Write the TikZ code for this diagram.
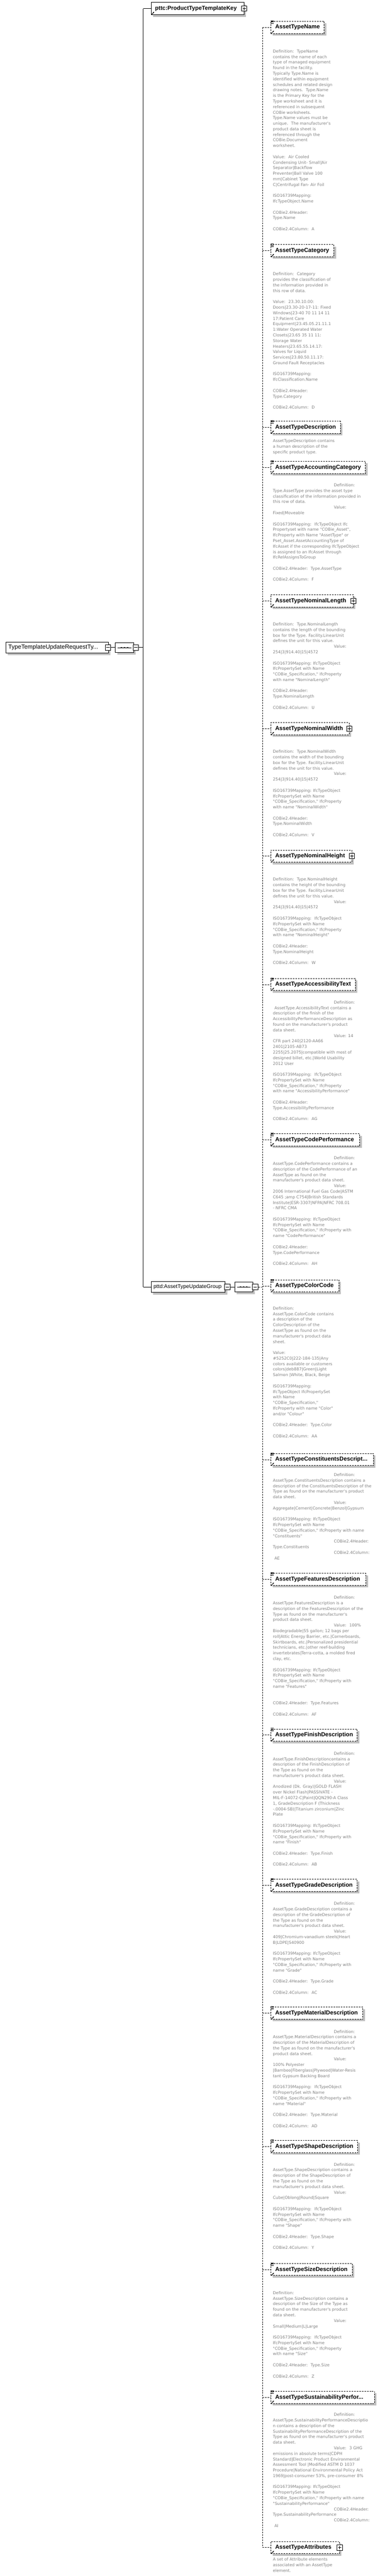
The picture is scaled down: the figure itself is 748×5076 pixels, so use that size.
\documentclass[tikz,border=0pt]{standalone}
\usepackage{fontspec}
\usetikzlibrary{shapes.misc,shadows,arrows.meta}
\newfontfamily\docf{DejaVu Sans}
\newfontfamily\lblf{Liberation Sans}
\definecolor{docgray}{RGB}{128,128,128}
\definecolor{shgray}{RGB}{192,192,192}
\newcommand{\ind}{\hspace*{120pt}}
\newcommand{\fs}{\rule{0pt}{7.5pt}}
\newcommand{\bl}{10.95pt}
\begin{document}
\begin{tikzpicture}[x=1pt,y=-1pt,line width=0.9pt,
  shad/.style={drop shadow={opacity=1,fill=shgray,shadow xshift=4pt,shadow yshift=-4pt}},
  ebox/.style={draw,dash pattern=on 3pt off 2pt,fill=white,minimum height=24pt,inner sep=0,anchor=west,shad},
  kbox/.style={draw,fill=white,minimum height=24pt,inner sep=0,anchor=west,shad},
  ctbox/.style={draw,fill=white,chamfered rectangle,chamfered rectangle xsep=3pt,inner sep=0,anchor=west,shad},
  seqbox/.style={draw,fill=white,chamfered rectangle,chamfered rectangle xsep=4pt,minimum width=36pt,minimum height=20pt,inner sep=0,shad},
  pmbox/.style={draw,fill=white,minimum size=10.5pt,inner sep=0,line width=0.9pt},
  minusb/.style={pmbox,path picture={\draw[line width=0.9pt] ([xshift=2pt]path picture bounding box.west) -- ([xshift=-2pt]path picture bounding box.east);}},
  plusb/.style={pmbox,path picture={\draw[line width=0.9pt] ([xshift=2pt]path picture bounding box.west) -- ([xshift=-2pt]path picture bounding box.east); \draw[line width=0.9pt] ([yshift=-2pt]path picture bounding box.north) -- ([yshift=2pt]path picture bounding box.south);}},
  conn/.style={dash pattern=on 3pt off 2pt},
  elbl/.style={font=\lblf\bfseries\fontsize{11.4}{13}\selectfont,anchor=west,inner sep=0},
  keylbl/.style={font=\lblf\bfseries\fontsize{11.2}{13}\selectfont,anchor=west,inner sep=0},
  rootlbl/.style={font=\lblf\fontsize{11.8}{13}\selectfont,anchor=west,inner sep=0},
  grplbl/.style={font=\lblf\fontsize{10.6}{13}\selectfont,anchor=west,inner sep=0},
  doc/.style={font=\docf\fontsize{7.95}{10.95}\selectfont,text=docgray,align=left,anchor=north west,inner sep=0},
  iconline/.style={line width=0.7pt},
  refarr/.style={line width=1pt,-{Stealth[length=2.6pt,width=2.8pt]}}
]
\newcommand{\refarrow}[1]{\draw[refarr] ([shift={(1.5,-1)}]#1.south west) -- ([shift={(6.5,-6)}]#1.south west);}
\newcommand{\docicon}[1]{\foreach \dy in {-0.8,1.6,4.1}{\draw[iconline] ([shift={(0.3,\dy)}]#1.north west) -- ++(6,0);}}
\newcommand{\seqdeco}[1]{\draw[line width=0.7pt] ([xshift=5pt]#1.west) -- ([xshift=-5pt]#1.east);
  \foreach \dx in {-6,0,6}{\fill ([xshift=\dx pt]#1.center) +(-1.6,-1.2) rectangle +(1.6,1.2);}}
\newcommand{\elem}[4]{%
  \coordinate (c#1) at (517,#2);
  \node[ebox,minimum width=#3pt] (b#1) at (533,#2) {};
  \node[elbl] (l#1) at (541.5,#2) {#4};
  \draw[conn] (c#1) -- (b#1.west);
  \refarrow{b#1}}
\useasboundingbox (0,0) rectangle (748,5076);

% ---------- root ----------
\node[ctbox,minimum width=202pt,minimum height=22pt] (root) at (11,1276) {};
\node[rootlbl] (rootl) at (16,1276) {TypeTemplateUpdateRequestTy...};
\node[minusb] (rootm) at (212.5,1276) {};
\node[seqbox] (s1) at (245,1276) {};
\seqdeco{s1}
\node[minusb] (s1m) at (267.5,1276) {};
\draw (rootm.east) -- (s1.west);
\coordinate (j0) at (282,17);
\coordinate (j1) at (282,1276);
\coordinate (j2) at (282,2536);
\draw (s1m.east) -- (j1);
\draw (j0) -- (j2);

% ---------- key ----------
\node[kbox,minimum width=183pt] (key) at (297,17) {};
\node[keylbl] (keyl) at (305,17) {pttc:ProductTypeTemplateKey};
\node[plusb] (keyp) at (key.east) {};
\refarrow{key}
\draw (j0) -- (key.west);

% ---------- group ----------
\node[ctbox,minimum width=146pt,minimum height=22pt] (grp) at (297,2536) {};
\node[grplbl] (grpl) at (302,2536) {pttd:AssetTypeUpdateGroup};
\node[minusb] (grpm) at (447.5,2536) {};
\draw (j2) -- (grp.west);
\node[seqbox] (s2) at (480,2536) {};
\seqdeco{s2}
\node[minusb] (s2m) at (502.5,2536) {};
\draw (grpm.east) -- (s2.west);
\coordinate (k0) at (517,54);
\coordinate (k1) at (517,2536);
\coordinate (k2) at (517,5020);
\draw[conn] (s2m.east) -- (k1);
\draw[conn] (k0) -- (k2);

% ---------- children ----------
\elem{1}{54}{105}{AssetTypeName}\docicon{b1}
\elem{2}{494}{124}{AssetTypeCategory}\docicon{b2}
\elem{3}{842}{137}{AssetTypeDescription}\docicon{b3}
\elem{4}{921}{186}{AssetTypeAccountingCategory}\docicon{b4}
\elem{5}{1184}{162}{AssetTypeNominalLength}\node[plusb] (p5) at (b5.east) {};
\elem{6}{1436}{154}{AssetTypeNominalWidth}\node[plusb] (p6) at (b6.east) {};
\elem{7}{1687}{159}{AssetTypeNominalHeight}\node[plusb] (p7) at (b7.east) {};
\elem{8}{1940}{166}{AssetTypeAccessibilityText}\docicon{b8}
\elem{9}{2246}{175}{AssetTypeCodePerformance}\docicon{b9}
\elem{10}{2534}{134}{AssetTypeColorCode}\docicon{b10}
\elem{11}{2876}{202}{AssetTypeConstituentsDescript...}\docicon{b11}
\elem{12}{3112}{187}{AssetTypeFeaturesDescription}\docicon{b12}
\elem{13}{3419}{170}{AssetTypeFinishDescription}\docicon{b13}
\elem{14}{3715}{170}{AssetTypeGradeDescription}\docicon{b14}
\elem{15}{3967}{181}{AssetTypeMaterialDescription}\docicon{b15}
\elem{16}{4230}{171}{AssetTypeShapeDescription}\docicon{b16}
\elem{17}{4472}{160}{AssetTypeSizeDescription}\docicon{b17}
\elem{18}{4724}{204}{AssetTypeSustainabilityPerfor...}\docicon{b18}
\elem{19}{5020}{135}{AssetTypeAttributes}\node[plusb] (p19) at (b19.east) {};

% ---------- documentation ----------
\node[doc] (d1) at (537,96) {\fs Definition:~ TypeName\\
contains the name of each\\
type of managed equipment\\
found in the facility.\\
Typically Type.Name is\\
identified within equipment\\
schedules and related design\\
drawing notes.~ Type.Name\\
is the Primary Key for the\\
Type worksheet and it is\\
referenced in subsequent\\
COBie worksheets.\\
Type.Name values must be\\
unique.~ The manufacturer's\\
product data sheet is\\
referenced through the\\
COBie.Document\\
worksheet.\\[\bl]
Value:~ Air Cooled\\
Condensing Unit- Small|Air\\
Separator|Backflow\\
Preventer|Ball Valve 100\\
mm|Cabinet Type\\
C|Centrifugal Fan- Air Foil\\[\bl]
ISO16739Mapping:\\
IfcTypeObject.Name\\[\bl]
COBie2.4Header:\\
Type.Name\\[\bl]
COBie2.4Column:~ A};

\node[doc] (d2) at (537,535) {\fs Definition:~ Category\\
provides the classification of\\
the information provided in\\
this row of data.\\[\bl]
Value:~ 23.30.10.00:\\
Doors|23.30-20-17-11: Fixed\\
Windows|23-40 70 11 14 11\\
17:Patient Care\\
Equipment|23.45.05.21.11.1\\
1:Water Operated Water\\
Closets|23.65 35 11 11:\\
Storage Water\\
Heaters|23.65.55.14.17:\\
Valves for Liquid\\
Services|23.80.50.11.17:\\
Ground Fault Receptacles\\[\bl]
ISO16739Mapping:\\
IfcClassification.Name\\[\bl]
COBie2.4Header:\\
Type.Category\\[\bl]
COBie2.4Column:~ D};

\node[doc] (d3) at (537,864) {\fs AssetTypeDescription contains\\
a human description of the\\
specific product type.};

\node[doc] (d4) at (537,951) {\fs\ind Definition:\\
Type.AssetType provides the asset type\\
classification of the information provided in\\
this row of data.\\
\ind Value:\\
Fixed|Moveable\\[\bl]
ISO16739Mapping:~ IfcTypeObject Ifc\\
Propertyset with name "COBie\_Asset",\\
IfcProperty with Name "AssetType" or\\
Pset\_Asset.AssetAccountingType of\\
IfcAsset if the corresponding IfcTypeObject\\
is assigned to an IfcAsset through\\
IfcRelAssignsToGroup\\[\bl]
COBie2.4Header:~ Type.AssetType\\[\bl]
COBie2.4Column:~ F};

\node[doc] (d5) at (537,1225) {\fs Definition:~ Type.NominalLength\\
contains the length of the bounding\\
box for the Type. Facility.LinearUnit\\
defines the unit for this value.\\
\ind Value:\\
254|3|914.40|15|4572\\[\bl]
ISO16739Mapping: IfcTypeObject\\
IfcPropertySet with Name\\
"COBie\_Specification," IfcProperty\\
with name "NominalLength"\\[\bl]
COBie2.4Header:\\
Type.NominalLength\\[\bl]
COBie2.4Column:~ U};

\node[doc] (d6) at (537,1476) {\fs Definition:~ Type.NominalWidth\\
contains the width of the bounding\\
box for the Type. Facility.LinearUnit\\
defines the unit for this value.\\
\ind Value:\\
254|3|914.40|15|4572\\[\bl]
ISO16739Mapping: IfcTypeObject\\
IfcPropertySet with Name\\
"COBie\_Specification," IfcProperty\\
with name "NominalWidth"\\[\bl]
COBie2.4Header:\\
Type.NominalWidth\\[\bl]
COBie2.4Column:~ V};

\node[doc] (d7) at (537,1728) {\fs Definition:~ Type.NominalHeight\\
contains the height of the bounding\\
box for the Type. Facility.LinearUnit\\
defines the unit for this value.\\
\ind Value:\\
254|3|914.40|15|4572\\[\bl]
ISO16739Mapping:~ IfcTypeObject\\
IfcPropertySet with Name\\
"COBie\_Specification," IfcProperty\\
with name "NominalHeight"\\[\bl]
COBie2.4Header:\\
Type.NominalHeight\\[\bl]
COBie2.4Column:~ W};

\node[doc] (d8) at (537,1970) {\fs\ind Definition:\\
\hspace*{3pt}AssetType.AccessibilityText contains a\\
description of the finish of the\\
AccessibilityPerformanceDescription as\\
found on the manufacturer's product\\
data sheet.\\
\ind Value: 14\\
CFR part 240|2120-AA66\\
2401|2105-AB73\\
2255|25.2075|compatible with most of\\
designed billet, etc.|World Usability\\
2012 User\\[\bl]
ISO16739Mapping:~ IfcTypeObject\\
IfcPropertySet with Name\\
"COBie\_Specification," IfcProperty\\
with name "AccessibilityPerformance"\\[\bl]
COBie2.4Header:\\
Type.AccessibilityPerformance\\[\bl]
COBie2.4Column:~ AG};

\node[doc] (d9) at (537,2277) {\fs\ind Definition:\\
AssetType.CodePerformance contains a\\
description of the CodePerformance of an\\
AssetType as found on the\\
manufacturer's product data sheet.\\
\ind Value:\\
2006 International Fuel Gas Code|ASTM\\
C645 ;amp C754|British Standards\\
Institute|ESR-3307|NFPA|NFRC 708.01\\
- NFRC CMA\\[\bl]
ISO16739Mapping: IfcTypeObject\\
IfcPropertySet with Name\\
"COBie\_Specification," IfcProperty with\\
name "CodePerformance"\\[\bl]
COBie2.4Header:\\
Type.CodePerformance\\[\bl]
COBie2.4Column:~ AH};

\node[doc] (d10) at (537,2573) {\fs Definition:\\
AssetType.ColorCode contains\\
a description of the\\
ColorDescription of the\\
AssetType as found on the\\
manufacturer's product data\\
sheet.\\[\bl]
Value:\\
\#5252C0|222-184-135|Any\\
colors available or customers\\
colors|deb887|Green|Light\\
Salmon |White, Black, Beige\\[\bl]
ISO16739Mapping:\\
IfcTypeObject IfcPropertySet\\
with Name\\
"COBie\_Specification,"\\
IfcProperty with name "Color"\\
and/or "Colour"\\[\bl]
COBie2.4Header:~ Type.Color\\[\bl]
COBie2.4Column:~ AA};

\node[doc] (d11) at (537,2901) {\fs\ind Definition:\\
AssetType.ConstituentsDescription contains a\\
description of the ConstituentsDescription of the\\
Type as found on the manufacturer's product\\
data sheet.\\
\ind Value:\\
Aggregate|Cement|Concrete|Benzol|Gypsum\\[\bl]
ISO16739Mapping: IfcTypeObject\\
IfcPropertySet with Name\\
"COBie\_Specification," IfcProperty with name\\
"Constituents"\\
\ind COBie2.4Header:\\
Type.Constituents\\
\ind COBie2.4Column:\\
\hspace*{3pt}AE};

\node[doc] (d12) at (537,3143) {\fs\ind Definition:\\
AssetType.FeaturesDescription is a\\
description of the FeaturesDescription of the\\
Type as found on the manufacturer's\\
product data sheet.\\
\ind Value:~ 100\%\\
Biodegradable|55 gallon; 12 bags per\\
roll|Attic Energy Barrier, etc.|Cornerboards,\\
Skirtboards, etc.|Personalized presidential\\
technicians, etc.|other reef-building\\
invertebrates|Terra-cotta, a molded fired\\
clay, etc.\\[\bl]
ISO16739Mapping: IfcTypeObject\\
IfcPropertySet with Name\\
"COBie\_Specification," IfcProperty with\\
name "Features"\\[21.9pt]
COBie2.4Header:~ Type.Features\\[\bl]
COBie2.4Column:~ AF};

\node[doc] (d13) at (537,3450) {\fs\ind Definition:\\
AssetType.FinishDescriptioncontains a\\
description of the FinishDescription of\\
the Type as found on the\\
manufacturer's product data sheet.\\
\ind Value:\\
Anodized (Dk. Gray)|GOLD FLASH\\
over Nickel Flash|PASSIVATE -\\
MIL-F-14072-C|Paint|QQN290-A Class\\
1, GradeDescription F (Thickness\\
-.0004-SB)|Titanium zirconium|Zinc\\
Plate\\[\bl]
ISO16739Mapping: IfcTypeObject\\
IfcPropertySet with Name\\
"COBie\_Specification," IfcProperty with\\
name "Finish"\\[\bl]
COBie2.4Header:~ Type.Finish\\[\bl]
COBie2.4Column:~ AB};

\node[doc] (d14) at (537,3746) {\fs\ind Definition:\\
AssetType.GradeDescription contains a\\
description of the GradeDescription of\\
the Type as found on the\\
manufacturer's product data sheet.\\
\ind Value:\\
409|Chromium-vanadium steels|Heart\\
B|LDPE|S40900\\[\bl]
ISO16739Mapping: IfcTypeObject\\
IfcPropertySet with Name\\
"COBie\_Specification," IfcProperty with\\
name "Grade"\\[\bl]
COBie2.4Header:~ Type.Grade\\[\bl]
COBie2.4Column:~ AC};

\node[doc] (d15) at (537,3998) {\fs\ind Definition:\\
AssetType.MaterialDescription contains a\\
description of the MaterialDescription of\\
the Type as found on the manufacturer's\\
product data sheet.\\
\ind Value:\\
100\% Polyester\\
|Bamboo|Fiberglass|Plywood|Water-Resis\\
tant Gypsum Backing Board\\[\bl]
ISO16739Mapping:~ IfcTypeObject\\
IfcPropertySet with Name\\
"COBie\_Specification," IfcProperty with\\
name "Material"\\[\bl]
COBie2.4Header:~ Type.Material\\[\bl]
COBie2.4Column:~ AD};

\node[doc] (d16) at (537,4260) {\fs\ind Definition:\\
AssetType.ShapeDescription contains a\\
description of the ShapeDescription of\\
the Type as found on the\\
manufacturer's product data sheet.\\
\ind Value:\\
Cube|Oblong|Round|Square\\[\bl]
ISO16739Mapping:~ IfcTypeObject\\
IfcPropertySet with Name\\
"COBie\_Specification," IfcProperty with\\
name "Shape"\\[\bl]
COBie2.4Header:~ Type.Shape\\[\bl]
COBie2.4Column:~ Y};

\node[doc] (d17) at (537,4513) {\fs Definition:\\
AssetType.SizeDescription contains a\\
description of the Size of the Type as\\
found on the manufacturer's product\\
data sheet.\\
\ind Value:\\
Small|Medium|L|Large\\[\bl]
ISO16739Mapping:~ IfcTypeObject\\
IfcPropertySet with Name\\
"COBie\_Specification," IfcProperty\\
with name "Size"\\[\bl]
COBie2.4Header:~ Type.Size\\[\bl]
COBie2.4Column:~ Z};

\node[doc] (d18) at (537,4753) {\fs\ind Definition:\\
AssetType.SustainabilityPerformanceDescriptio\\
n contains a description of the\\
SustainabilityPerformanceDescription of the\\
Type as found on the manufacturer's product\\
data sheet.\\
\ind Value:~ 3 GHG\\
emissions in absolute terms|CDPH\\
Standard|Electronic Product Environmental\\
Assessment Tool |Modified ASTM D 1037\\
Procedure|National Environmental Policy Act\\
1969|post-consumer 53\%, pre-consumer 8\%\\[\bl]
ISO16739Mapping: IfcTypeObject\\
IfcPropertySet with Name\\
"COBie\_Specification," IfcProperty with name\\
"SustainabilityPerformance"\\
\ind COBie2.4Header:\\
Type.SustainabilityPerformance\\
\ind COBie2.4Column:\\
\hspace*{3pt}AI};

\node[doc] (d19) at (537,5038) {\fs A set of Attribute elements\\
associated with an AssetType\\
element.};
\end{tikzpicture}
\end{document}
